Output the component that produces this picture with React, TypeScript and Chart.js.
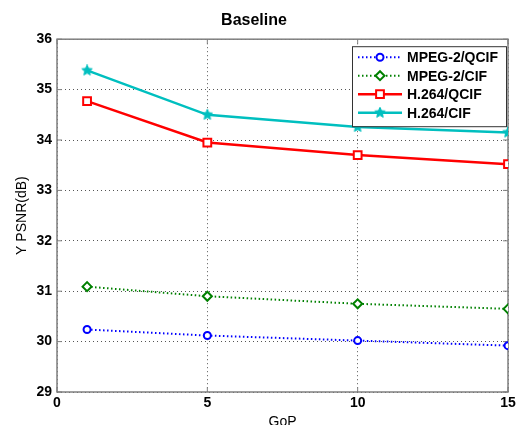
import React, { useEffect, useRef } from 'react';
import { Chart, registerables } from 'chart.js';

Chart.register(...registerables);

const gop = [1, 5, 10, 15];
const mpeg2Qcif = [30.24, 30.12, 30.02, 29.92];
const mpeg2Cif = [31.09, 30.9, 30.75, 30.65];
const h264Qcif = [34.77, 33.95, 33.7, 33.52];
const h264Cif = [35.38, 34.5, 34.26, 34.15];
const seriesLabels = ['MPEG-2/QCIF', 'MPEG-2/CIF', 'H.264/QCIF', 'H.264/CIF'];
const xTicks = [0, 5, 10, 15];
const yTicks = [29, 30, 31, 32, 33, 34, 35, 36];
const chartTitle = 'Baseline';
const xTitle = 'GoP';
const yTitle = 'Y PSNR(dB)';

const FONT = '"Liberation Sans", Arial, Helvetica, sans-serif';
const CYAN = '#00bfbf';

function makeStar(color: string): HTMLCanvasElement {
  const c = document.createElement('canvas');
  c.width = 12;
  c.height = 12;
  const g = c.getContext('2d')!;
  g.fillStyle = color;
  g.strokeStyle = color;
  g.lineWidth = 1;
  g.beginPath();
  const cx = 6, cy = 6, ro = 5.5, ri = 2.6;
  for (let i = 0; i < 10; i++) {
    const r = i % 2 === 0 ? ro : ri;
    const a = -Math.PI / 2 + (i * Math.PI) / 5;
    const px = cx + Math.cos(a) * r;
    const py = cy + Math.sin(a) * r;
    if (i === 0) g.moveTo(px, py);
    else g.lineTo(px, py);
  }
  g.closePath();
  g.fill();
  g.stroke();
  return c;
}

function drawMarker(ctx: CanvasRenderingContext2D, style: any, x: number, y: number, r: number, color: string) {
  ctx.save();
  ctx.strokeStyle = color;
  ctx.fillStyle = '#ffffff';
  ctx.lineWidth = 2;
  ctx.setLineDash([]);
  ctx.beginPath();
  if (style === 'circle') {
    ctx.arc(x, y, r, 0, Math.PI * 2);
    ctx.fill();
    ctx.stroke();
  } else if (style === 'rectRot') {
    ctx.moveTo(x - r, y);
    ctx.lineTo(x, y - r);
    ctx.lineTo(x + r, y);
    ctx.lineTo(x, y + r);
    ctx.closePath();
    ctx.fill();
    ctx.stroke();
  } else if (style === 'rect') {
    const s = Math.SQRT1_2 * r;
    ctx.rect(x - s, y - s, 2 * s, 2 * s);
    ctx.fill();
    ctx.stroke();
  } else if (style && style.width) {
    ctx.drawImage(style, x - style.width / 2, y - style.height / 2);
  }
  ctx.restore();
}

const framePlugin = {
  id: 'matlabFrame',
  beforeDatasetsDraw(chart: any) {
    const { ctx, chartArea } = chart;
    const { left, right, top, bottom } = chartArea;
    ctx.save();
    ctx.strokeStyle = '#7f7f7f';
    ctx.lineWidth = 1.5;
    ctx.setLineDash([]);
    ctx.strokeRect(left, top, right - left, bottom - top);
    ctx.lineWidth = 1;
    ctx.beginPath();
    const xs = chart.scales.x;
    const ys = chart.scales.y;
    xTicks.forEach((t) => {
      const px = xs.getPixelForValue(t);
      ctx.moveTo(px, bottom);
      ctx.lineTo(px, bottom - 5);
      ctx.moveTo(px, top);
      ctx.lineTo(px, top + 5);
    });
    yTicks.forEach((t) => {
      const py = ys.getPixelForValue(t);
      ctx.moveTo(left, py);
      ctx.lineTo(left + 5, py);
      ctx.moveTo(right, py);
      ctx.lineTo(right - 5, py);
    });
    ctx.stroke();
    ctx.restore();
  },
  afterDraw(chart: any) {
    const { ctx, chartArea } = chart;
    const boxRight = chartArea.right - 2;
    const boxTop = chartArea.top + 7;
    const boxW = 154;
    const boxH = 80;
    const boxLeft = boxRight - boxW;
    ctx.save();
    ctx.fillStyle = '#ffffff';
    ctx.fillRect(boxLeft, boxTop, boxW, boxH);
    ctx.strokeStyle = '#333333';
    ctx.lineWidth = 1;
    ctx.setLineDash([]);
    ctx.strokeRect(boxLeft + 0.5, boxTop + 0.5, boxW, boxH);
    chart.data.datasets.forEach((ds: any, i: number) => {
      const y = boxTop + 11 + i * 18.5;
      ctx.save();
      ctx.strokeStyle = ds.borderColor;
      ctx.lineWidth = ds.borderWidth;
      ctx.setLineDash(ds.borderDash || []);
      ctx.beginPath();
      ctx.moveTo(boxLeft + 6, y);
      ctx.lineTo(boxLeft + 50, y);
      ctx.stroke();
      ctx.restore();
      drawMarker(ctx, ds.pointStyle, boxLeft + 28, y, ds.pointRadius, ds.borderColor);
      ctx.fillStyle = '#000000';
      ctx.font = `bold 14px ${FONT}`;
      ctx.textAlign = 'left';
      ctx.textBaseline = 'middle';
      ctx.fillText(ds.label, boxLeft + 55, y + 1);
    });
    ctx.restore();
  },
};

export default function App() {
  const ref = useRef<HTMLCanvasElement>(null);
  useEffect(() => {
    if (!ref.current) return;
    const mk = (vals: number[]) => gop.map((g, i) => ({ x: g, y: vals[i] }));
    const star = makeStar(CYAN);
    const chart = new Chart(ref.current, {
      type: 'line',
      data: {
        datasets: [
          {
            label: seriesLabels[0],
            data: mk(mpeg2Qcif),
            borderColor: '#0000ff',
            backgroundColor: '#ffffff',
            borderWidth: 2,
            borderDash: [1.5, 2.5],
            pointStyle: 'circle',
            pointRadius: 3.5,
            pointBorderWidth: 2,
          },
          {
            label: seriesLabels[1],
            data: mk(mpeg2Cif),
            borderColor: '#008000',
            backgroundColor: '#ffffff',
            borderWidth: 2,
            borderDash: [1.5, 2.5],
            pointStyle: 'rectRot',
            pointRadius: 4.5,
            pointBorderWidth: 2,
          },
          {
            label: seriesLabels[2],
            data: mk(h264Qcif),
            borderColor: '#ff0000',
            backgroundColor: '#ffffff',
            borderWidth: 2.5,
            pointStyle: 'rect',
            pointRadius: 5.5,
            pointBorderWidth: 2,
          },
          {
            label: seriesLabels[3],
            data: mk(h264Cif),
            borderColor: CYAN,
            backgroundColor: CYAN,
            borderWidth: 2.5,
            pointStyle: star,
            pointRadius: 5,
            pointBorderWidth: 1,
          },
        ] as any,
      },
      options: {
        animation: false,
        responsive: false,
        maintainAspectRatio: false,
        layout: { padding: { left: 0, right: 11, top: 0, bottom: 0 } },
        plugins: {
          legend: { display: false },
          tooltip: { enabled: false },
          title: {
            display: true,
            text: chartTitle,
            color: '#000000',
            font: { family: FONT, size: 16, weight: 'bold' },
            padding: { top: 11, bottom: 9 },
          },
        },
        scales: {
          x: {
            type: 'linear',
            min: 0,
            max: 15,
            afterBuildTicks: (scale: any) => {
              scale.ticks = xTicks.map((v) => ({ value: v }));
            },
            afterFit: (scale: any) => {
              scale.height = 33;
            },
            border: { display: false, dash: [1, 3] },
            grid: {
              color: '#555555',
              lineWidth: 1,
              drawTicks: false,
            },
            ticks: {
              color: '#000000',
              padding: 3,
              maxRotation: 0,
              font: { family: FONT, size: 14, weight: 'bold' },
            },
            title: {
              display: true,
              text: xTitle,
              color: '#000000',
              font: { family: FONT, size: 14, weight: 'normal' },
              padding: { top: 0, bottom: -6 },
            },
          },
          y: {
            type: 'linear',
            min: 29,
            max: 36,
            afterBuildTicks: (scale: any) => {
              scale.ticks = yTicks.map((v) => ({ value: v }));
            },
            afterFit: (scale: any) => {
              scale.width = 57;
            },
            border: { display: false, dash: [1, 3] },
            grid: {
              color: '#555555',
              lineWidth: 1,
              drawTicks: false,
            },
            ticks: {
              color: '#000000',
              padding: 5,
              font: { family: FONT, size: 14, weight: 'bold' },
            },
            title: {
              display: true,
              text: yTitle,
              color: '#000000',
              font: { family: FONT, size: 14, weight: 'normal' },
              padding: { top: 14, bottom: 0 },
            },
          },
        },
      } as any,
      plugins: [framePlugin],
    });
    return () => chart.destroy();
  }, []);
  return (
    <div style={{ position: 'fixed', left: 0, top: 0, width: 519, height: 425, background: '#ffffff' }}>
      <canvas ref={ref} width={519} height={425} style={{ width: 519, height: 425, display: 'block' }} />
    </div>
  );
}
